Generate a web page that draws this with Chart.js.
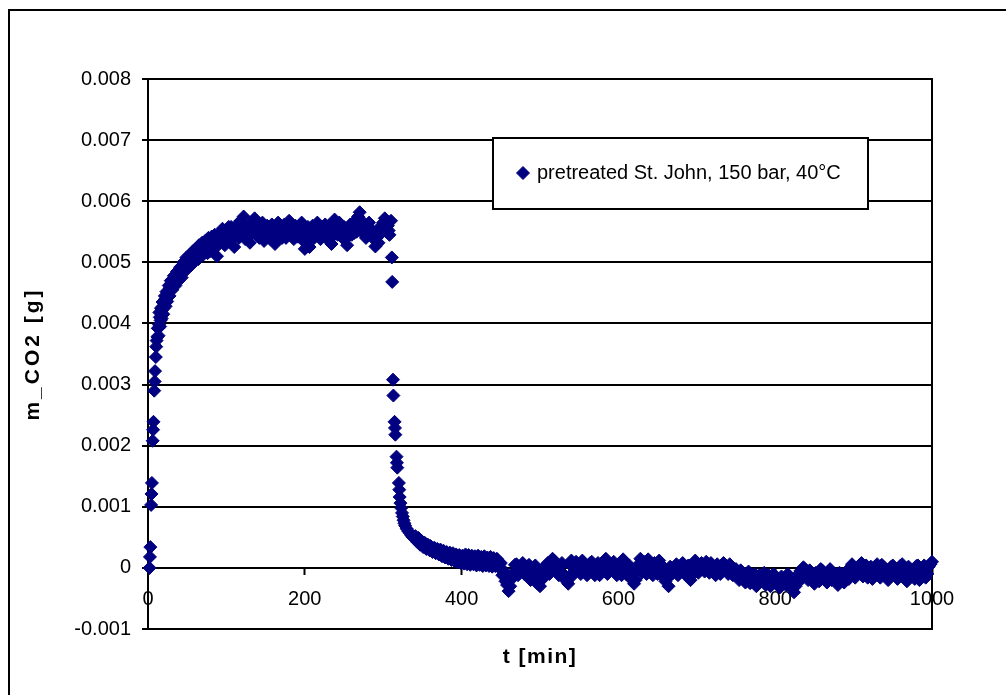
<!DOCTYPE html>
<html><head><meta charset="utf-8">
<script src="https://cdn.jsdelivr.net/npm/chart.js@4.4.1/dist/chart.umd.min.js"></script>
<style>html,body{margin:0;padding:0;background:#fff;overflow:hidden}canvas{display:block}</style>
</head><body>
<canvas id="c" width="1006" height="695"></canvas>
<script>
const seriesLabel = 'pretreated St. John, 150 bar, 40°C';
const xTitle = 't [min]';
const yTitle = 'm_CO2 [g]';
const xTickLabels = ['0', '200', '400', '600', '800', '1000'];
const yTickLabels = ['-0.001', '0', '0.001', '0.002', '0.003', '0.004', '0.005', '0.006', '0.007', '0.008'];

// [t (min), m_CO2 (g)]
const riseData = [
  [2, 0], [2.5, 0.00018], [3, 0.00034], [4, 0.00103], [4.5, 0.00121], [5, 0.00139],
  [6, 0.00208], [6.5, 0.00226], [7, 0.00239], [8, 0.00290], [8.5, 0.00305], [9, 0.00322],
  [10, 0.00345], [11, 0.00372], [12, 0.00378], [13, 0.00392], [14, 0.00398], [15, 0.00410],
  [16, 0.00405], [17, 0.00418], [18, 0.00422], [19, 0.00428], [20, 0.00425], [21, 0.00435],
  [22, 0.00440], [23, 0.00436], [24, 0.00445], [25, 0.00448], [26, 0.00445], [27, 0.00455],
  [28, 0.00458], [30, 0.00462], [32, 0.00465], [34, 0.00472], [36, 0.00470], [38, 0.00478],
  [40, 0.00482], [42, 0.00480], [44, 0.00490], [46, 0.00495], [48, 0.00488], [50, 0.00500],
  [52, 0.00505], [54, 0.00498], [56, 0.00508], [58, 0.00502], [60, 0.00512], [62, 0.00515],
  [64, 0.00505], [66, 0.00518], [68, 0.00522], [70, 0.00512], [72, 0.00520], [74, 0.00528],
  [76, 0.00515], [78, 0.00525], [80, 0.00532], [82, 0.00520], [84, 0.00530], [86, 0.00538],
  [88, 0.00510]
];
const riseScatter = [
  [10.5, 0.00362], [12.5, 0.00392], [13.5, 0.00380], [14.5, 0.00418], [15.5, 0.00395],
  [16.5, 0.00425], [17.5, 0.00408], [18.5, 0.00435], [19.5, 0.00415], [21.5, 0.00445],
  [22.5, 0.00428], [23.5, 0.00452], [24.5, 0.00436], [26.5, 0.00462], [27.5, 0.00445],
  [29, 0.00470], [31, 0.00455], [33, 0.00478], [35, 0.00462], [37, 0.00485], [39, 0.00470],
  [41, 0.00492], [43, 0.00475], [45, 0.00500], [47, 0.00485], [49, 0.00508], [51, 0.00492],
  [53, 0.00512], [55, 0.00495], [57, 0.00518], [59, 0.00505], [61, 0.00522], [63, 0.00508],
  [65, 0.00528], [67, 0.00510], [69, 0.00532], [71, 0.00518], [73, 0.00535], [75, 0.00520],
  [77, 0.00540], [79, 0.00518], [81, 0.00542], [83, 0.00528], [85, 0.00545], [87, 0.00525],
  [89, 0.00540]
];
const plateauData = [
  [90, 0.00545], [92, 0.00532], [94, 0.00550], [96, 0.00540], [98, 0.00528], [100, 0.00552],
  [102, 0.00545], [104, 0.00535], [106, 0.00558], [108, 0.00548], [110, 0.00525], [112, 0.00555],
  [114, 0.00562], [116, 0.00540], [118, 0.00568], [120, 0.00550], [122, 0.00575], [124, 0.00538],
  [126, 0.00560], [128, 0.00545], [130, 0.00532], [132, 0.00565], [134, 0.00555], [136, 0.00572],
  [138, 0.00548], [140, 0.00560], [142, 0.00540], [144, 0.00555], [146, 0.00565], [148, 0.00535],
  [150, 0.00550], [152, 0.00560], [154, 0.00545], [156, 0.00538], [158, 0.00562], [160, 0.00550],
  [162, 0.00530], [164, 0.00555], [166, 0.00565], [168, 0.00542], [170, 0.00558], [172, 0.00548],
  [174, 0.00562], [176, 0.00540], [178, 0.00555], [180, 0.00568], [182, 0.00545], [184, 0.00552],
  [186, 0.00538], [188, 0.00560], [190, 0.00548], [192, 0.00555], [194, 0.00542], [196, 0.00565],
  [198, 0.00535], [200, 0.00522], [202, 0.00548], [204, 0.00558], [206, 0.00525], [208, 0.00545],
  [210, 0.00560], [212, 0.00540], [214, 0.00552], [216, 0.00565], [218, 0.00548], [220, 0.00538],
  [222, 0.00558], [224, 0.00545], [226, 0.00562], [228, 0.00550], [230, 0.00540], [232, 0.00555],
  [234, 0.00530], [236, 0.00548], [238, 0.00570], [240, 0.00558], [242, 0.00545], [244, 0.00565],
  [246, 0.00552], [248, 0.00540], [250, 0.00558], [252, 0.00545], [254, 0.00528], [256, 0.00550],
  [258, 0.00562], [260, 0.00545], [262, 0.00555], [264, 0.00568], [266, 0.00550], [268, 0.00575],
  [270, 0.00582], [272, 0.00565], [274, 0.00548], [276, 0.00560], [278, 0.00540], [280, 0.00555],
  [282, 0.00565], [284, 0.00545], [286, 0.00552], [288, 0.00538], [290, 0.00526], [292, 0.00550],
  [294, 0.00532], [296, 0.00558], [298, 0.00548], [300, 0.00565], [302, 0.00572], [304, 0.00550],
  [306, 0.00560], [308, 0.00545], [310, 0.00568]
];
const plateauScatter = [
  [91, 0.00538], [95, 0.00555], [99, 0.00542], [103, 0.00558], [107, 0.00540], [111, 0.00548],
  [115, 0.00552], [119, 0.00558], [123, 0.00562], [127, 0.00550], [131, 0.00545], [135, 0.00560],
  [139, 0.00555], [143, 0.00548], [147, 0.00558], [151, 0.00542], [155, 0.00555], [159, 0.00545],
  [163, 0.00548], [167, 0.00552], [171, 0.00540], [175, 0.00555], [179, 0.00550], [183, 0.00560],
  [187, 0.00548], [191, 0.00542], [195, 0.00555], [199, 0.00540], [203, 0.00535], [207, 0.00550],
  [211, 0.00548], [215, 0.00558], [219, 0.00545], [223, 0.00552], [227, 0.00540], [231, 0.00560],
  [235, 0.00542], [239, 0.00552], [243, 0.00558], [247, 0.00548], [251, 0.00552], [255, 0.00542],
  [259, 0.00555], [263, 0.00548], [267, 0.00560], [271, 0.00570], [275, 0.00555], [279, 0.00548],
  [283, 0.00552], [287, 0.00545], [291, 0.00540], [295, 0.00548], [299, 0.00555], [303, 0.00560],
  [307, 0.00552]
];
const dropData = [
  [311, 0.00508], [311.5, 0.00468], [312.5, 0.00308], [313, 0.00282], [314.5, 0.00239],
  [315, 0.00229], [315.5, 0.00218], [317, 0.00182], [317.5, 0.00172], [318, 0.00164],
  [320, 0.00139], [320.5, 0.00128], [321, 0.00116], [322, 0.00106], [323, 0.00098],
  [324, 0.00090], [325, 0.00084], [326, 0.00078], [327, 0.00073], [328, 0.00069],
  [330, 0.00064], [332, 0.00060], [334, 0.00057], [336, 0.00053], [338, 0.00050]
];
const decayData = [
  [340, 0.00048], [342, 0.00046], [344, 0.00047], [346, 0.00042], [348, 0.00041], [350, 0.00040],
  [352, 0.00037], [354, 0.00039], [356, 0.00035], [358, 0.00033], [360, 0.00036], [362, 0.00031],
  [364, 0.00029], [366, 0.00032], [368, 0.00027], [370, 0.00029], [372, 0.00025], [374, 0.00028],
  [376, 0.00022], [378, 0.00025], [380, 0.00020], [382, 0.00023], [384, 0.00018], [386, 0.00022],
  [388, 0.00016], [390, 0.00020], [392, 0.00014], [394, 0.00019], [396, 0.00012], [398, 0.00018],
  [400, 0.00011], [402, 0.00017], [404, 0.00010], [406, 0.00019], [408, 0.00012], [410, 0.00016],
  [412, 0.00008], [414, 0.00018], [416, 0.00010], [418, 0.00015], [420, 0.00007], [422, 0.00016],
  [424, 0.00009], [426, 0.00013], [428, 0.00006], [430, 0.00015], [432, 0.00008], [434, 0.00012],
  [436, 0.00005], [438, 0.00014], [440, 0.00007], [442, 0.00011], [444, 0.00004], [446, 0.00012],
  [448, 0.00006]
];
const decayScatter = [
  [341, 0.00052], [343, 0.00043], [345, 0.00049], [347, 0.00038], [349, 0.00044], [351, 0.00034],
  [353, 0.00041], [355, 0.00031], [357, 0.00038], [359, 0.00029], [361, 0.00035], [363, 0.00026],
  [365, 0.00033], [367, 0.00024], [369, 0.00031], [371, 0.00022], [373, 0.00030], [375, 0.00019],
  [377, 0.00028], [379, 0.00017], [381, 0.00026], [383, 0.00015], [385, 0.00025], [387, 0.00013],
  [389, 0.00024], [391, 0.00011], [393, 0.00022], [395, 0.00009], [397, 0.00021], [399, 0.00008],
  [401, 0.00020], [403, 0.00007], [405, 0.00022], [407, 0.00006], [409, 0.00021], [411, 0.00005],
  [413, 0.00020], [415, 0.00006], [417, 0.00019], [419, 0.00004], [421, 0.00020], [423, 0.00005],
  [425, 0.00018], [427, 0.00003], [429, 0.00019], [431, 0.00004], [433, 0.00017], [435, 0.00003],
  [437, 0.00018], [439, 0.00002], [441, 0.00016], [443, 0.00003], [445, 0.00015], [447, 0.00001]
];
const tailData = [
  [452, -0.00012], [456, -0.00022], [460, -0.00038], [464, -0.00018], [468, 0.00005],
  [472, -0.00012], [476, 0.00002], [480, -0.00010], [484, -0.00002], [488, -0.00020],
  [492, -0.00005], [496, -0.00025], [500, -0.00030], [504, -0.00008], [508, 0.00005],
  [512, -0.00010], [516, 0.00015], [520, 0.00002], [524, -0.00012], [528, 0.00008],
  [532, -0.00018], [536, -0.00026], [540, 0.00012], [544, -0.00005], [548, 0.00006],
  [552, -0.00010], [556, 0.00004], [560, -0.00012], [564, 0.00008], [568, -0.00006],
  [572, 0.00005], [576, -0.00012], [580, 0.00002], [584, 0.00015], [588, -0.00004],
  [592, 0.00006], [596, -0.00008], [600, 0.00003], [604, -0.00012], [608, 0.00005],
  [612, -0.00006], [616, -0.00018], [620, -0.00026], [624, -0.00005], [628, 0.00015],
  [632, 0.00002], [636, -0.00010], [640, 0.00006], [644, -0.00012], [648, 0.00004],
  [652, 0.00012], [656, -0.00008], [660, -0.00022], [664, -0.00030], [668, -0.00010],
  [672, 0.00002], [676, -0.00012], [680, 0.00004], [684, -0.00008], [688, 0.00003],
  [692, -0.00020], [696, -0.00006], [700, 0.00008], [704, -0.00004], [708, 0.00002],
  [712, 0.00010], [716, -0.00008], [720, 0.00004], [724, -0.00012], [728, 0.00002],
  [732, -0.00006], [736, 0.00005], [740, -0.00010], [744, 0.00003], [748, -0.00008],
  [752, -0.00014], [756, -0.00004], [760, -0.00018], [764, -0.00010], [768, -0.00025],
  [772, -0.00015], [776, -0.00030], [780, -0.00012], [784, -0.00022], [788, -0.00028],
  [792, -0.00012], [796, -0.00024], [800, -0.00018], [804, -0.00030], [808, -0.00014],
  [812, -0.00026], [816, -0.00010], [820, -0.00032], [824, -0.00040], [828, -0.00020],
  [832, -0.00005], [836, 0.00001], [840, -0.00012], [844, -0.00004], [848, -0.00018],
  [852, -0.00008], [856, -0.00022], [860, -0.00004], [864, -0.00015], [868, -0.00006],
  [872, -0.00020], [876, -0.00010], [880, -0.00028], [884, -0.00014], [888, -0.00024],
  [892, -0.00004], [896, -0.00012], [900, 0.00002], [904, -0.00010], [908, 0.00005],
  [912, -0.00014], [916, 0.00004], [920, -0.00008], [924, -0.00018], [928, 0.00003],
  [932, -0.00012], [936, 0.00005], [940, -0.00006], [944, -0.00020], [948, 0.00002],
  [952, -0.00010], [956, -0.00018], [960, 0.00004], [964, -0.00012], [968, -0.00022],
  [972, -0.00002], [976, -0.00014], [980, 0.00003], [984, -0.00020], [988, -0.00008],
  [992, -0.00016], [996, 0.00002], [1000, 0.00010]
];
const tailScatter = [
  [450, 0.00008], [454, -0.00005], [458, -0.00028], [462, -0.00030], [466, -0.00008],
  [470, 0.00006], [474, -0.00008], [478, 0.00008], [482, -0.00012], [486, 0.00005],
  [490, -0.00012], [494, 0.00004], [498, -0.00018], [502, -0.00020], [506, -0.00002],
  [510, 0.00008], [514, -0.00006], [518, 0.00012], [522, -0.00006], [526, 0.00004],
  [530, -0.00010], [534, -0.00022], [538, 0.00006], [542, -0.00012], [546, 0.00010],
  [550, -0.00004], [554, 0.00012], [558, -0.00006], [562, 0.00002], [566, 0.00010],
  [570, -0.00012], [574, 0.00008], [578, -0.00006], [582, 0.00010], [586, -0.00010],
  [590, 0.00002], [594, 0.00010], [598, -0.00012], [602, 0.00008], [606, 0.00014],
  [610, -0.00010], [614, 0.00004], [618, -0.00012], [622, -0.00020], [626, 0.00006],
  [630, -0.00008], [634, 0.00010], [638, 0.00014], [642, -0.00006], [646, 0.00008],
  [650, -0.00010], [654, 0.00006], [658, -0.00016], [662, -0.00018], [666, 0.00002],
  [670, -0.00008], [674, 0.00006], [678, -0.00008], [682, 0.00008], [686, -0.00012],
  [690, 0.00004], [694, -0.00012], [698, 0.00012], [702, -0.00008], [706, 0.00008],
  [710, -0.00006], [714, 0.00003], [718, 0.00008], [722, -0.00006], [726, 0.00006],
  [730, -0.00010], [734, 0.00008], [738, -0.00004], [742, 0.00006], [746, -0.00012],
  [750, -0.00002], [754, -0.00020], [758, -0.00008], [762, -0.00024], [766, -0.00006],
  [770, -0.00020], [774, -0.00010], [778, -0.00024], [782, -0.00018], [786, -0.00008],
  [790, -0.00022], [794, -0.00030], [798, -0.00010], [802, -0.00022], [806, -0.00032],
  [810, -0.00018], [814, -0.00028], [818, -0.00016], [822, -0.00024], [826, -0.00030],
  [830, -0.00010], [834, -0.00018], [838, -0.00002], [842, -0.00020], [846, -0.00008],
  [850, -0.00026], [854, -0.00012], [858, -0.00002], [862, -0.00018], [866, -0.00024],
  [870, -0.00002], [874, -0.00014], [878, -0.00022], [882, -0.00008], [886, -0.00018],
  [890, -0.00010], [894, -0.00018], [898, 0.00006], [902, -0.00016], [906, -0.00004],
  [910, 0.00008], [914, -0.00008], [918, -0.00016], [922, 0.00002], [926, -0.00006],
  [930, 0.00006], [934, -0.00016], [938, 0.00002], [942, -0.00014], [946, -0.00004],
  [950, 0.00004], [954, -0.00014], [958, -0.00004], [962, 0.00006], [966, -0.00016],
  [970, 0.00002], [974, -0.00008], [978, -0.00018], [982, 0.00004], [986, -0.00012],
  [990, 0.00004], [994, -0.00010], [998, 0.00006]
];

const points = [
  ...riseData, ...riseScatter, ...plateauData, ...plateauScatter, ...dropData,
  ...decayData, ...decayScatter, ...tailData, ...tailScatter
].map(([t, m]) => ({x: t, y: m}));

const FONT = '"Liberation Sans", Arial, Helvetica, sans-serif';
const NAVY = '#000080';
const MARKER_R = 6.5;

function labelFor(list, value) {
  const hit = list.find(l => Math.abs(parseFloat(l) - value) < 1e-9);
  return hit === undefined ? '' : hit;
}

const framePlugin = {
  id: 'frame',
  beforeDraw(chart) {
    const ctx = chart.ctx;
    ctx.save();
    ctx.fillStyle = '#fff';
    ctx.fillRect(0, 0, chart.width, chart.height);
    ctx.strokeStyle = '#000';
    ctx.lineWidth = 2;
    ctx.beginPath();
    ctx.moveTo(9, chart.height + 5);
    ctx.lineTo(9, 10);
    ctx.lineTo(chart.width + 5, 10);
    ctx.stroke();
    ctx.restore();
    [['y', '3px'], ['x2', '1.5px']].forEach(([id, sp]) => {
      const s = chart.scales[id];
      if (s && !s._spacedTitle) {
        const orig = s.drawTitle;
        s.drawTitle = function () {
          const c = this.ctx;
          c.save();
          c.letterSpacing = sp;
          orig.call(this);
          c.restore();
        };
        s._spacedTitle = true;
      }
    });
  }
};

const legendPlugin = {
  id: 'boxLegend',
  afterDraw(chart) {
    const ctx = chart.ctx;
    const a = chart.chartArea;
    const bx = a.left + 345, by = a.top + 59, bw = 375, bh = 71;
    ctx.save();
    ctx.fillStyle = '#fff';
    ctx.fillRect(bx, by, bw, bh);
    ctx.strokeStyle = '#000';
    ctx.lineWidth = 2;
    ctx.strokeRect(bx, by, bw, bh);
    const ds = chart.data.datasets[0];
    ctx.fillStyle = ds.backgroundColor;
    ctx.strokeStyle = ds.borderColor;
    ctx.lineWidth = 1;
    Chart.helpers.drawPoint(ctx, {pointStyle: 'rectRot', radius: MARKER_R, rotation: 0, borderWidth: 1},
      bx + 30, by + 35);
    ctx.fillStyle = '#000';
    ctx.font = '20px ' + FONT;
    ctx.textBaseline = 'middle';
    ctx.textAlign = 'left';
    ctx.fillText(ds.label, bx + 44, by + 35);
    ctx.restore();
  }
};

new Chart(document.getElementById('c'), {
  type: 'scatter',
  data: {
    datasets: [{
      label: seriesLabel,
      data: points,
      pointStyle: 'rectRot',
      pointRadius: MARKER_R,
      pointHoverRadius: MARKER_R,
      backgroundColor: NAVY,
      borderColor: NAVY,
      borderWidth: 1,
      showLine: false,
      clip: false
    }]
  },
  options: {
    responsive: false,
    animation: false,
    devicePixelRatio: 1,
    layout: {padding: {left: 10, top: 79, right: 0, bottom: 10}},
    plugins: {legend: {display: false}, tooltip: {enabled: false}},
    scales: {
      x: {
        type: 'linear',
        axis: 'x',
        position: {y: 0},
        min: 0, max: 1000,
        ticks: {
          stepSize: 200, color: '#000', padding: 14,
          font: {family: FONT, size: 20},
          maxRotation: 0, autoSkip: false,
          callback: v => labelFor(xTickLabels, v)
        },
        grid: {display: true, drawOnChartArea: false, drawTicks: true, tickLength: 6, tickColor: '#000', tickWidth: 2},
        border: {display: true, color: '#000', width: 2}
      },
      x2: {
        type: 'linear',
        axis: 'x',
        position: 'bottom',
        min: 0, max: 1000,
        ticks: {display: false},
        grid: {display: false},
        border: {display: true, color: '#000', width: 2},
        title: {display: true, text: xTitle, color: '#000', font: {family: FONT, size: 21, weight: 'bold'}, padding: {top: 0, bottom: 15}},
        afterFit: s => { s.height = 56; }
      },
      y: {
        type: 'linear',
        position: 'left',
        min: -0.001, max: 0.008,
        ticks: {
          stepSize: 0.001, color: '#000', padding: 11,
          font: {family: FONT, size: 20},
          callback: v => labelFor(yTickLabels, v)
        },
        grid: {color: '#000', lineWidth: 2, drawTicks: true, tickLength: 6, tickColor: '#000', tickWidth: 2},
        border: {display: true, color: '#000', width: 2},
        title: {display: true, text: yTitle, color: '#000', font: {family: FONT, size: 21, weight: 'bold'}, padding: {top: 11, bottom: 0}},
        afterFit: s => { s.width = 138; }
      },
      y2: {
        type: 'linear',
        axis: 'y',
        position: 'right',
        min: -0.001, max: 0.008,
        ticks: {display: false},
        grid: {display: false},
        border: {display: true, color: '#000', width: 2},
        afterFit: s => { s.width = 74; }
      }
    }
  },
  plugins: [framePlugin, legendPlugin]
});
</script>
</body></html>
